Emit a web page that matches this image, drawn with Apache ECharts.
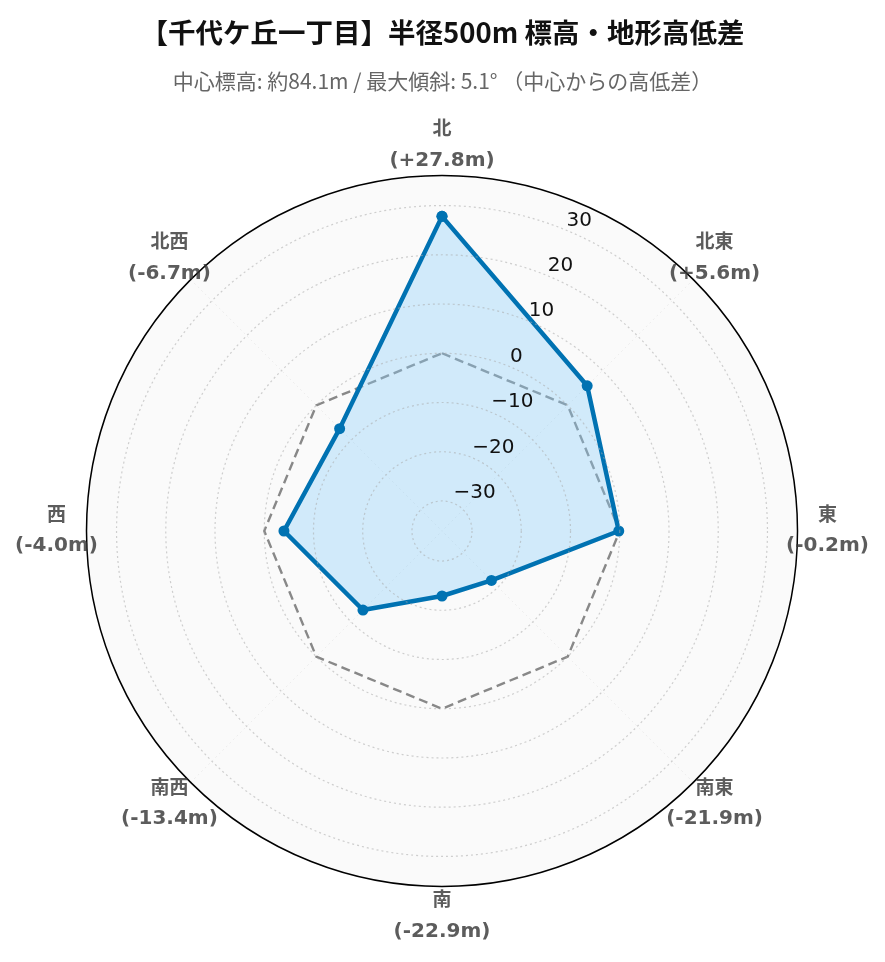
<!DOCTYPE html>
<html><head><meta charset="utf-8">
<script src="https://cdn.jsdelivr.net/npm/echarts@6/dist/echarts.min.js"></script>
<style>html,body{margin:0;padding:0;background:#fff}#c{width:885px;height:962px}</style>
</head><body><div id="c"></div>
<script>
// ---- data ----
const directions = ['北', '北東', '東', '南東', '南', '南西', '西', '北西'];
const elevationDiff = [27.8, 5.6, -0.2, -21.9, -22.9, -13.4, -4.0, -6.7];
const baselineValues = [0, 0, 0, 0, 0, 0, 0, 0];
const radialTicks = [-30, -20, -10, 0, 10, 20, 30];
const radialRange = [-36.1, 36.1];
const titleText = '【千代ケ丘一丁目】半径500m 標高・地形高低差';
const subtitleText = '中心標高: 約84.1m / 最大傾斜: 5.1° （中心からの高低差）';

// ---- layout ----
const CX = 442, CY = 531, R = 355.5, LABEL_R = 385.5;
const scale = R / (radialRange[1] - radialRange[0]);
const tickMin = radialTicks[0], tickMax = radialTicks[radialTicks.length - 1];
const tickStep = radialTicks[1] - radialTicks[0];
const gridInner = (tickMin - radialRange[0]) * scale;
const gridOuter = (tickMax - radialRange[0]) * scale;

const angles = directions.map((d, i) => i * 360 / directions.length);
const closed = vals => vals.map((v, i) => [v, angles[i]]).concat([[vals[0], 360]]);
const fmtDiff = v => '(' + (v >= 0 ? '+' : '') + v.toFixed(1) + 'm)';
const fmtTick = v => (v < 0 ? '\u2212' + Math.abs(v) : String(v));

const dotted = { color: '#c8c8c8', width: 1.2, type: [2, 3] };

const chart = echarts.init(document.getElementById('c'), null, { renderer: 'canvas' });
chart.setOption({
  backgroundColor: '#ffffff',
  animation: false,
  title: {
    text: titleText,
    subtext: subtitleText,
    left: 'center',
    top: 12,
    itemGap: 21,
    textStyle: { fontSize: 27.5, fontWeight: 'bold', color: '#111', fontFamily: 'Noto Sans CJK JP', lineHeight: 31 },
    subtextStyle: { fontSize: 21, color: '#666', fontFamily: 'Noto Sans CJK JP', lineHeight: 25 }
  },
  polar: [
    { center: [CX, CY], radius: R },
    { center: [CX, CY], radius: [gridInner, gridOuter] },
    { center: [CX, CY], radius: LABEL_R }
  ],
  angleAxis: [
    {
      polarIndex: 0, type: 'value', min: 0, max: 360, interval: 45, startAngle: 90, clockwise: true, z: 0,
      axisLine: { show: true, lineStyle: { color: '#000', width: 1.5 } },
      axisTick: { show: false }, axisLabel: { show: false },
      splitLine: { show: true, lineStyle: dotted },
      splitArea: { show: true, areaStyle: { color: ['#fafafa', '#fafafa'] } }
    },
    {
      polarIndex: 1, type: 'value', min: 0, max: 360, startAngle: 67.5, clockwise: true, z: 1,
      axisLine: { show: false }, axisTick: { show: false }, axisLabel: { show: false },
      splitLine: { show: false }, splitArea: { show: false }
    },
    {
      polarIndex: 2, type: 'value', min: 0, max: 360, startAngle: 90, clockwise: true,
      axisLine: { show: false }, axisTick: { show: false }, axisLabel: { show: false },
      splitLine: { show: false }, splitArea: { show: false }
    }
  ],
  radiusAxis: [
    {
      polarIndex: 0, type: 'value', min: radialRange[0], max: radialRange[1],
      axisLine: { show: false }, axisTick: { show: false }, axisLabel: { show: false },
      splitLine: { show: false }
    },
    {
      polarIndex: 1, type: 'value', min: tickMin, max: tickMax, interval: tickStep, z: 10,
      axisLine: { show: false }, axisTick: { show: false },
      splitLine: { show: true, lineStyle: { color: 'rgba(170,170,170,0.55)', width: 1.2, type: [2, 3] } },
      axisLabel: {
        show: true, margin: 0, align: 'left', verticalAlign: 'bottom',
        showMinLabel: true, showMaxLabel: true,
        fontSize: 20, color: '#111', fontFamily: 'DejaVu Sans',
        formatter: v => fmtTick(v)
      }
    },
    {
      polarIndex: 2, type: 'value', min: 0, max: 1,
      axisLine: { show: false }, axisTick: { show: false }, axisLabel: { show: false },
      splitLine: { show: false }
    }
  ],
  series: [
    {
      type: 'line', coordinateSystem: 'polar', polarIndex: 0, z: 3,
      data: closed(baselineValues),
      symbol: 'none',
      lineStyle: { color: '#888888', width: 2.4, type: [9, 5] }
    },
    {
      type: 'line', coordinateSystem: 'polar', polarIndex: 0, z: 4,
      data: closed(elevationDiff),
      symbol: 'circle', symbolSize: 11,
      itemStyle: { color: '#0072B2' },
      lineStyle: { color: '#0072B2', width: 4.5 },
      areaStyle: { color: 'rgba(135,206,250,0.36)', opacity: 1, origin: 'start' }
    },
    {
      type: 'scatter', coordinateSystem: 'polar', polarIndex: 2, z: 5,
      symbolSize: 0,
      data: angles.map(a => [1, a]),
      label: {
        show: true, position: 'inside',
        formatter: p => '{a|' + directions[p.dataIndex] + '}\n{b|' + fmtDiff(elevationDiff[p.dataIndex]) + '}',
        rich: {
          a: { fontSize: 19, fontWeight: 'bold', color: '#333', lineHeight: 30, fontFamily: 'DejaVu Sans, Noto Sans CJK JP', align: 'center' },
          b: { fontSize: 20, fontWeight: 'bold', color: '#333', lineHeight: 30, fontFamily: 'DejaVu Sans, Noto Sans CJK JP', align: 'center' }
        }
      }
    }
  ]
});
</script>
</body></html>
